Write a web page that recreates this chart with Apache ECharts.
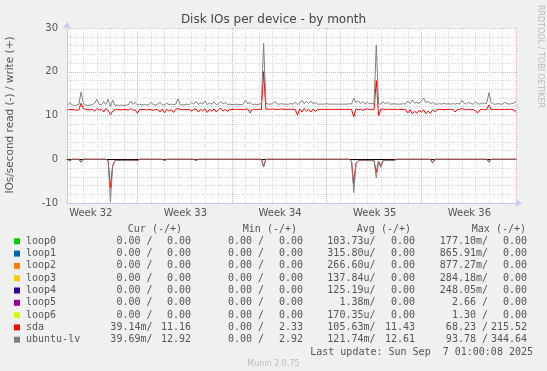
<!DOCTYPE html>
<html><head><meta charset="utf-8">
<script src="https://cdn.jsdelivr.net/npm/echarts@6/dist/echarts.min.js"></script>
<style>html,body{margin:0;padding:0;background:#f0f0f0;}#c{width:547px;height:371px;}</style>
</head><body><div id="c"></div>
<script>
// time axis: days after Mon 4 Aug 2025 00:00; samples every 4 hours
const START_DAY = 1 + 20 / 24;
const STEP_DAY = 1 / 6;
const X_MIN = 1.79, X_MAX = 35.0;
const weekNames = ['Week 32', 'Week 33', 'Week 34', 'Week 35', 'Week 36'];
const yTicks = [-10, 0, 10, 20, 30];

// write IOs/s (+)
const sdaWrite = [
  11.3,11.4,11.3,11.3,11.2,11.3,12.8,11.6,11.4,11.3,
  11.3,11.4,11.0,11.6,11.2,11.4,10.8,11.6,11.2,10.2,
  11.0,11.3,11.4,11.3,11.3,11.4,11.3,11.3,11.6,11.2,
  11.3,10.5,11.4,11.3,11.4,11.3,11.4,11.3,11.2,11.4,
  11.3,10.8,11.5,10.6,11.4,11.0,11.4,10.7,11.4,11.6,
  11.4,11.3,11.4,11.3,11.4,11.0,11.4,11.5,10.8,11.4,
  11.1,11.5,10.7,11.4,11.0,11.5,10.8,11.4,11.6,11.0,
  11.4,10.9,11.4,11.4,11.4,11.4,11.4,11.4,11.3,11.5,
  11.4,10.6,11.4,11.4,11.4,11.4,11.4,20.0,11.4,11.5,
  11.4,11.5,11.4,11.4,11.4,11.5,11.4,11.4,11.4,11.4,
  11.4,11.4,10.1,11.5,10.8,11.6,11.0,11.4,10.8,11.5,
  10.9,11.4,11.4,11.4,11.4,11.4,11.4,11.4,11.4,11.4,
  11.4,11.4,11.4,11.4,11.4,11.4,11.4,9.7,11.5,11.3,
  11.4,11.2,11.4,11.5,11.4,11.3,11.4,18.0,10.0,11.4,
  11.5,11.4,11.4,11.4,11.4,11.4,11.4,11.4,11.4,11.4,
  11.4,10.6,11.3,10.4,11.0,10.5,11.2,10.8,11.3,10.4,
  11.0,10.5,11.3,10.8,11.4,11.4,11.4,11.3,11.4,11.4,
  11.4,11.4,10.8,11.4,11.4,11.6,11.4,11.3,11.4,11.3,
  11.4,11.0,10.6,11.3,11.4,11.3,11.4,12.4,11.3,11.4,
  11.4,11.4,11.4,11.4,11.4,11.4,11.4,11.4,11.3,10.7
];
const lvWrite = [
  12.4,13.0,12.4,12.3,12.4,12.5,15.4,12.8,12.4,12.3,
  12.4,12.5,12.8,13.7,12.6,12.4,13.2,12.5,13.7,12.0,
  13.5,12.3,12.4,12.3,12.4,12.3,12.4,12.4,13.3,12.5,
  13.0,12.4,12.6,12.4,12.5,12.4,12.5,13.0,12.5,12.4,
  12.6,13.0,12.5,12.4,12.8,12.5,12.6,12.5,12.6,13.8,
  12.5,12.4,12.5,12.6,12.5,13.0,12.6,13.2,12.5,12.9,
  12.6,13.3,12.5,12.8,12.6,13.1,12.5,12.7,13.2,12.6,
  13.0,12.5,12.6,12.5,12.5,12.6,12.5,12.5,12.6,13.5,
  12.6,13.0,12.5,12.6,12.5,12.6,12.7,26.5,12.8,12.6,
  12.6,12.7,13.2,12.6,12.6,12.7,12.6,12.6,12.6,12.7,
  12.6,13.0,12.5,12.8,13.5,12.7,13.2,12.8,13.3,12.7,
  13.0,12.6,12.6,12.6,12.6,12.7,12.6,12.6,12.6,12.6,
  12.6,12.6,12.6,12.6,12.6,12.7,12.6,14.0,12.9,13.4,
  12.7,13.2,12.6,13.0,12.7,12.8,12.6,26.1,12.7,12.6,
  13.2,12.6,13.0,12.6,12.6,12.7,12.6,12.6,12.6,12.7,
  12.6,13.3,12.7,13.6,12.8,13.0,12.7,13.4,14.0,12.9,
  13.3,12.7,13.0,12.6,12.6,12.7,12.6,12.8,12.6,12.7,
  12.6,12.7,12.6,12.8,12.6,13.5,12.8,12.6,13.0,12.7,
  12.6,13.1,12.7,12.6,12.9,12.7,12.8,15.2,12.9,12.6,
  12.6,12.7,12.6,12.6,13.0,12.7,12.6,12.7,12.8,13.2
];
// read IOs/s (drawn as -)
const sdaRead = [
  0,0.3,0,0,0,0,0.6,0,0,0,
  0,0,0,0,0,0,0,0,0.3,6.5,
  1.5,0.3,0.2,0.3,0.2,0.3,0.2,0.2,0.3,0.2,
  0.2,0.3,0,0,0,0,0,0,0,0,
  0,0,0,0.3,0,0,0,0,0,0,
  0,0,0,0,0,0,0,0.3,0,0,
  0,0,0,0,0,0,0,0,0,0,
  0,0,0,0,0,0,0,0,0,0,
  0,0,0,0,0,0,0,1.6,0,0,
  0,0,0,0,0,0,0,0,0,0,
  0,0,0,0,0,0,0,0,0,0,
  0,0,0,0,0,0,0,0,0,0,
  0,0,0,0,0,0,0.4,5.5,0.9,0.3,
  0.2,0.3,0.2,0.3,0.2,0.3,0.3,3.0,0.4,1.5,
  0.3,0.2,0.3,0.2,0.3,0.2,0,0,0,0,
  0,0,0,0,0,0,0,0,0,0,
  0,0,0.8,0,0,0,0,0,0,0,
  0,0,0,0,0,0,0,0,0,0,
  0,0,0,0,0,0,0,0.6,0,0,
  0,0,0,0,0,0,0,0,0,0
];
const lvRead = [
  0,0.4,0,0,0,0,0.7,0,0,0,
  0,0,0,0,0,0,0,0,0.4,9.7,
  1.7,0.3,0.3,0.3,0.3,0.3,0.3,0.3,0.3,0.3,
  0.3,0.3,0,0,0,0,0,0,0,0,
  0,0,0,0.3,0,0,0,0,0,0,
  0,0,0,0,0,0,0,0.3,0,0,
  0,0,0,0,0,0,0,0,0,0,
  0,0,0,0,0,0,0,0,0,0,
  0,0,0,0,0,0,0,1.8,0,0,
  0,0,0,0,0,0,0,0,0,0,
  0,0,0,0,0,0,0,0,0,0,
  0,0,0,0,0,0,0,0,0,0,
  0,0,0,0,0,0,0.5,7.6,1.0,0.3,
  0.3,0.3,0.3,0.3,0.3,0.3,0.3,4.3,0.5,1.9,
  0.3,0.3,0.3,0.3,0.3,0.3,0,0,0,0,
  0,0,0,0,0,0,0,0,0,0,
  0,0,0.9,0,0,0,0,0,0,0,
  0,0,0,0,0,0,0,0,0,0,
  0,0,0,0,0,0,0,0.7,0,0,
  0,0,0,0,0,0,0,0,0,0
];

// legend table
const names  = ['loop0','loop1','loop2','loop3','loop4','loop5','loop6','sda','ubuntu-lv'];
const colors = ['#00cc00','#0066b3','#ff8000','#ffcc00','#330099','#990099','#ccff00','#ff0000','#808080'];
const curR = ['0.00 /','0.00 /','0.00 /','0.00 /','0.00 /','0.00 /','0.00 /','39.14m/','39.69m/'];
const curW = ['0.00','0.00','0.00','0.00','0.00','0.00','0.00','11.16','12.92'];
const minR = ['0.00 /','0.00 /','0.00 /','0.00 /','0.00 /','0.00 /','0.00 /','0.00 /','0.00 /'];
const minW = ['0.00','0.00','0.00','0.00','0.00','0.00','0.00','2.33','2.92'];
const avgR = ['103.73u/','315.80u/','266.60u/','137.84u/','125.19u/','1.38m/','170.35u/','105.63m/','121.74m/'];
const avgW = ['0.00','0.00','0.00','0.00','0.00','0.00','0.00','11.43','12.61'];
const maxR = ['177.10m/','865.91m/','877.27m/','284.18m/','248.05m/','2.66 /','1.30 /','68.23 /','93.78 /'];
const maxW = ['0.00','0.00','0.00','0.00','0.00','0.00','0.00','215.52','344.64'];
const headers = ['Cur (-/+)','Min (-/+)','Avg (-/+)','Max (-/+)'];
const lastUpdate = 'Last update: Sun Sep  7 01:00:08 2025';

const TXT = '#555555';
const SANS = '"DejaVu Sans", sans-serif';
const MONO = '"DejaVu Sans Mono", monospace';

const weekCenters = weekNames.map((_, k) => 7 * k + 3.55);
const dayLines = [], weekLines = [];
for (let d = 2; d <= 35; d++) { (d % 7 === 0 ? weekLines : dayLines).push(d); }

const toPts = (arr, sign) => arr.map((v, i) => [START_DAY + i * STEP_DAY, sign * v]);

const chart = echarts.init(document.getElementById('c'), null, {renderer: 'canvas'});

function txt(x, y, text, opt) {
  opt = opt || {};
  return {
    type: 'text', x: x, y: y, rotation: opt.rot || 0, silent: true, z: 100,
    style: {
      text: text, font: opt.font || ('10px ' + MONO), fill: opt.fill || TXT,
      align: opt.align || 'left', verticalAlign: 'middle',
      textAlign: opt.align || 'left', textVerticalAlign: 'middle'
    }
  };
}

const g = [];
g.push(txt(273.5, 20, 'Disk IOs per device - by month', {font: '12px ' + SANS, align: 'center', fill: '#444'}));
g.push(txt(10.5, 115, 'IOs/second read (-) / write (+)', {font: '10.5px ' + SANS, align: 'center', rot: Math.PI / 2}));
g.push(txt(540, 5, 'RRDTOOL / TOBI OETIKER', {font: '8px ' + SANS, fill: '#bbbbbb', rot: -Math.PI / 2}));
const hdrRight = [182, 297, 411, 526];
headers.forEach((h, k) => g.push(txt(hdrRight[k], 229, h, {align: 'right'})));
const ROW0 = 241.3, ROWH = 12.3;
names.forEach((n, r) => {
  const y = ROW0 + r * ROWH;
  g.push({type: 'rect', shape: {x: 14, y: y - 3, width: 6, height: 6}, style: {fill: colors[r]}, silent: true, z: 100});
  g.push(txt(26, y, n));
  const cols = [[curR, 152.5], [curW, 191], [minR, 264], [minW, 303], [avgR, 375.5], [avgW, 415], [maxR, 488], [maxW, 527]];
  cols.forEach(c => g.push(txt(c[1], y, c[0][r], {align: 'right'})));
});
g.push(txt(533, ROW0 + 9 * ROWH, lastUpdate, {align: 'right'}));
g.push(txt(273.5, 364, 'Munin 2.0.75', {font: '8px ' + SANS, fill: '#bbbbbb', align: 'center'}));

const lineSeries = (name, data, color) => ({
  name: name, type: 'line', data: data, showSymbol: false, symbol: 'none',
  lineStyle: {color: color, width: 1}, itemStyle: {color: color},
  animation: false, silent: true, z: 3
});

chart.setOption({
  backgroundColor: '#f0f0f0',
  animation: false,
  grid: {left: 67, right: 31, top: 28, bottom: 168, show: true, backgroundColor: '#ffffff', borderWidth: 0},
  xAxis: [
    {
      type: 'value', min: X_MIN, max: X_MAX, position: 'bottom',
      axisLine: {show: true, onZero: false, symbol: ['none', 'arrow'], symbolSize: [6, 7], symbolOffset: [0, 6],
        lineStyle: {color: '#c4c8f0', width: 1}},
      axisTick: {show: false, customValues: weekCenters},
      axisLabel: {customValues: weekCenters, color: TXT, fontSize: 10, fontFamily: SANS, margin: 5,
        formatter: v => weekNames[Math.round((v - 3.55) / 7)]},
      splitLine: {show: false}
    },
    {
      type: 'value', min: X_MIN, max: X_MAX, position: 'bottom',
      axisLine: {show: true, onZero: true, lineStyle: {color: '#000000', width: 1}},
      axisTick: {show: false, customValues: dayLines},
      axisLabel: {show: false},
      splitLine: {show: true, lineStyle: {color: '#d8d8d8', width: 1, type: [1, 1]}}
    },
    {
      type: 'value', min: X_MIN, max: X_MAX, position: 'bottom',
      axisLine: {show: false, onZero: false},
      axisTick: {show: false, customValues: weekLines},
      axisLabel: {show: false},
      splitLine: {show: true, lineStyle: {color: '#efb0b0', width: 1, type: [1, 1]}}
    }
  ],
  yAxis: {
    type: 'value', min: yTicks[0], max: yTicks[yTicks.length - 1], interval: 10,
    axisLine: {show: true, symbol: ['none', 'arrow'], symbolSize: [6, 7], symbolOffset: [0, 6],
      lineStyle: {color: '#c4c8f0', width: 1}},
    axisTick: {show: false},
    axisLabel: {color: TXT, fontSize: 10, fontFamily: SANS, margin: 9},
    splitLine: {show: true, lineStyle: {color: '#efb0b0', width: 1, type: [1, 1]}},
    minorTick: {show: false, splitNumber: 5},
    minorSplitLine: {show: true, lineStyle: {color: '#d8d8d8', width: 1, type: [1, 1]}}
  },
  series: [
    lineSeries('sda read', toPts(sdaRead, -1), '#ff0000'),
    lineSeries('sda write', toPts(sdaWrite, 1), '#ff0000'),
    lineSeries('ubuntu-lv read', toPts(lvRead, -1), '#808080'),
    lineSeries('ubuntu-lv write', toPts(lvWrite, 1), '#808080')
  ],
  graphic: g
});
</script>
</body></html>
